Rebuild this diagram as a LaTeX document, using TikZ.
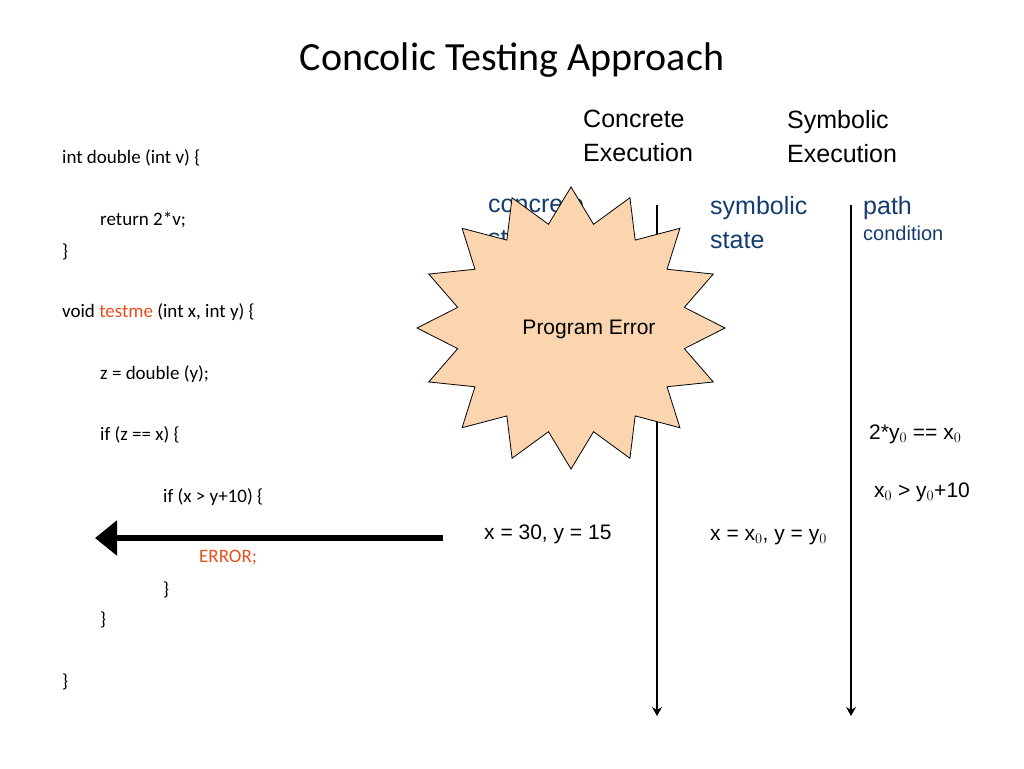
\documentclass[tikz,border=0pt]{standalone}
\usepackage{fontspec}
\setmainfont{Liberation Sans}
\newfontfamily\calfont{Carlito}
\usetikzlibrary{arrows.meta}
\definecolor{blu}{RGB}{20,60,110}
\definecolor{org}{RGB}{230,80,30}
\definecolor{peach}{RGB}{251,213,176}
\begin{document}
\begin{tikzpicture}[x=1pt,y=-1pt,
  code/.style={anchor=west,inner sep=0,font=\calfont\fontsize{19}{22}\selectfont},
  hdr/.style={anchor=north west,inner sep=0,align=left,font=\fontsize{25}{34}\selectfont},
  st/.style={anchor=north west,inner sep=0,align=left,text=blu,font=\fontsize{25}{34}\selectfont},
  val/.style={anchor=west,inner sep=0,font=\fontsize{21}{24}\selectfont}]
\useasboundingbox (0,0) rectangle (1024,768);
\node[inner sep=0,font=\calfont\fontsize{40}{48}\selectfont] (title) at (512,60) {Concolic Testing Approach};
\node[code] (c1) at (62,158) {int double (int v) \{};
\node[code] (c2) at (100,220) {return 2*v;};
\node[code] (c3) at (62,252) {\}};
\node[code] (c4) at (62,312) {void \textcolor{org}{testme} (int x, int y) \{};
\node[code] (c5) at (100,374) {z = double (y);};
\node[code] (c6) at (100,435) {if (z == x) \{};
\node[code] (c7) at (163,497) {if (x > y+10) \{};
\node[code,text=org] (c8) at (199,558) {ERROR;};
\node[code] (c9) at (163,590) {\}};
\node[code] (c10) at (100,620) {\}};
\node[code] (c11) at (62,682) {\}};
\node[hdr] (h1) at (583,110) {Concrete\\Execution};
\node[hdr] (h2) at (787,110) {Symbolic\\Execution};
\node[st] (s1) at (488,196) {concrete\\state};
\node[st] (s2) at (710,196) {symbolic\\state};
\node[st,align=left] (s3) at (863,196) {path\\[-8pt]{\fontsize{20}{24}\selectfont condition}};
\coordinate (a1) at (657,205); \coordinate (a2) at (657,716);
\coordinate (b1) at (851,205); \coordinate (b2) at (851,716);
\draw[line width=1.2pt,-{Stealth[length=9pt,width=10pt]}] (a1) -- (a2);
\draw[line width=1.2pt,-{Stealth[length=9pt,width=10pt]}] (b1) -- (b2);
\node[val] (p1) at (869,434) {2*y$_0$ == x$_0$};
\node[val] (p2) at (874,492) {x$_0$ > y$_0$+10};
\node[val] (v1) at (484,534) {x = 30, y = 15};
\node[val] (v2) at (710,537) {x = x$_0$, y = y$_0$};
\draw[fill=peach,line width=0.8pt] plot[samples at={0,...,31}]
  ({571+154*(1-0.25*mod(\x,2))*cos(90+11.25*\x)},{328+141*(1-0.25*mod(\x,2))*sin(90+11.25*\x)}) -- cycle;
\node[inner sep=0,font=\fontsize{21}{24}\selectfont] (err) at (589,329) {Program Error};
\coordinate (e1) at (443,538); \coordinate (e2) at (95,538);
\draw[line width=6pt,-{Triangle[length=22pt,width=34pt]}] (e1) -- (e2);
\end{tikzpicture}
\end{document}
